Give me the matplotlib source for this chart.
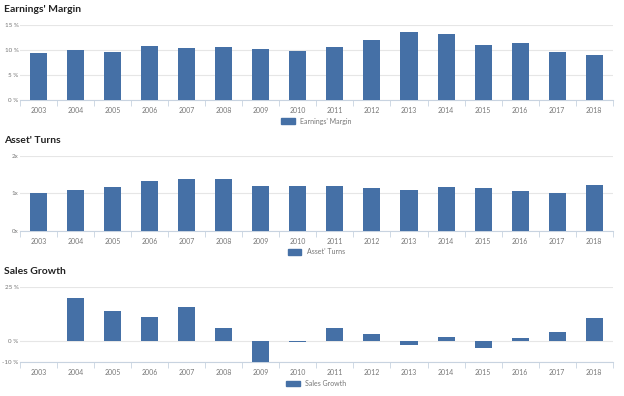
import numpy as np
import matplotlib.pyplot as plt
from matplotlib.patches import Patch

# данные
years = [str(y) for y in range(2003, 2019)]
earnings_margin = [9.5, 10.0, 9.7, 10.9, 10.5, 10.7, 10.3, 9.9,
                   10.6, 12.1, 13.6, 13.3, 11.1, 11.5, 9.7, 9.1]
asset_turns = [1.00, 1.08, 1.16, 1.32, 1.38, 1.39, 1.19, 1.19,
               1.19, 1.15, 1.09, 1.17, 1.15, 1.07, 1.02, 1.22]
sales_growth = [0.0, 20.2, 13.8, 11.4, 15.8, 5.9, -9.9, -0.5,
                6.2, 3.1, -2.1, 1.9, -3.3, 1.6, 4.4, 10.6]

bar_color = '#4570a6'
grid_color = '#e6e6e6'
axis_color = '#c8d3e0'
text_color = '#777777'

plt.rcParams['font.family'] = ['Lato', 'DejaVu Sans']

fig = plt.figure(figsize=(6.24, 3.96), dpi=100)

# заголовок, значения, деления, подписи, пределы, низ осей, высота заголовка (в пикселях сверху)
panels = [
    ("Earnings' Margin", earnings_margin, [0, 5, 10, 15], ['0 %', '5 %', '10 %', '15 %'], (0, 15), 0.747, 9),
    ("Asset' Turns", asset_turns, [0, 1, 2], ['0x', '1x', '2x'], (0, 2), 0.417, 140),
    ("Sales Growth", sales_growth, [-10, 0, 25], ['-10 %', '0 %', '25 %'], (-10, 25), 0.085, 271),
]

x = np.arange(len(years))
for title, values, ticks, labels, ylim, bottom, title_px in panels:
    ax = fig.add_axes([0.032, bottom, 0.95, 0.189])
    ax.bar(x, values, width=0.46, color=bar_color, zorder=3)
    ax.set_xlim(-0.5, len(years) - 0.5)
    ax.set_ylim(*ylim)
    ax.set_yticks(ticks)
    ax.set_yticklabels(labels)
    ax.set_xticks(x)
    ax.set_xticklabels(years)
    ax.set_xticks(np.arange(-0.5, len(years)), minor=True)
    ax.tick_params(axis='x', which='major', length=0, labelsize=5, colors=text_color, pad=5)
    ax.tick_params(axis='x', which='minor', length=4, color=axis_color)
    ax.tick_params(axis='y', length=0, labelsize=4.5, colors=text_color, pad=1)
    ax.yaxis.grid(True, color=grid_color, linewidth=0.8, zorder=0)
    for s in ['top', 'right', 'left']:
        ax.spines[s].set_visible(False)
    ax.spines['bottom'].set_color(axis_color)
    fig.text(0.006, 1 - title_px / 396, title, fontsize=7.5, fontweight='bold',
             color='#222222', va='center', ha='left')
    ax.legend(handles=[Patch(color=bar_color, label=title)], loc='upper center',
              bbox_to_anchor=(0.5, -0.15), frameon=False, fontsize=5,
              handlelength=2.0, handleheight=0.9, labelcolor=text_color)

fig.savefig('out.png', dpi=100)
